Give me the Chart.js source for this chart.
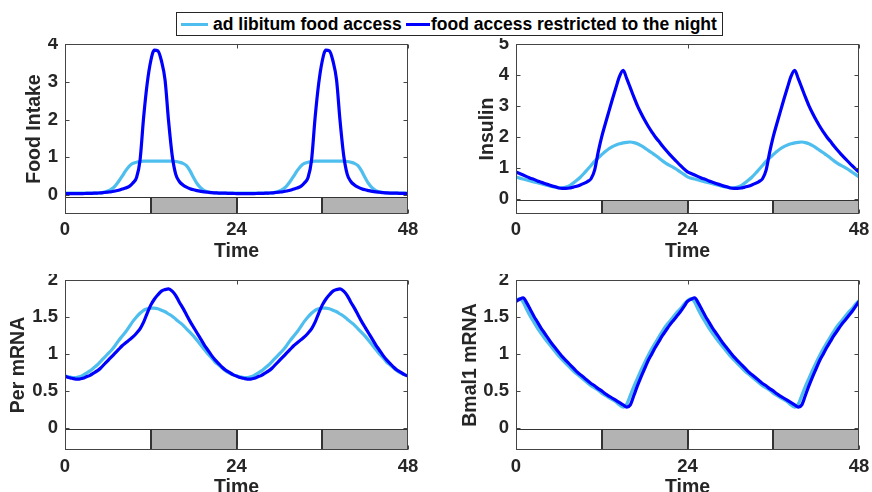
<!DOCTYPE html>
<html>
<head>
<meta charset="utf-8">
<script src="https://cdn.jsdelivr.net/npm/chart.js@4.4.1/dist/chart.umd.min.js"></script>
<style>
  html, body { margin:0; padding:0; background:#ffffff; width:872px; height:492px; overflow:hidden; }
  canvas { position:absolute; }
  #legend { position:absolute; left:176px; top:12px; width:547px; height:24px; box-sizing:border-box;
            border:1px solid #262626; background:#fff; font-family:"Liberation Sans", Arial, Helvetica, sans-serif;
            font-weight:bold; font-size:17.5px; color:#000; }
  #legend .sw { position:absolute; height:3px; top:10px; }
  #legend .tx { position:absolute; top:0; line-height:22px; white-space:nowrap; }
</style>
</head>
<body>
<div id="legend"></div>
<canvas id="c1" width="436" height="232" style="left:0px;top:38px;"></canvas>
<canvas id="c2" width="436" height="232" style="left:436px;top:38px;"></canvas>
<canvas id="c3" width="436" height="230" style="left:0px;top:274px;"></canvas>
<canvas id="c4" width="436" height="230" style="left:436px;top:274px;"></canvas>
<script>
// ---------------- data ----------------
const seriesNames = ['ad libitum food access', 'food access restricted to the night'];
const seriesColors = ['#4DBEEE', '#0000ff'];
const xLabel = 'Time';
const yLabels = ['Food Intake', 'Insulin', 'Per mRNA', 'Bmal1 mRNA'];
const xTicks = [0, 24, 48];
const yTicksFood = [0, 1, 2, 3, 4];
const yTicksInsulin = [0, 1, 2, 3, 4, 5];
const yTicksPer = [0, 0.5, 1, 1.5, 2];
const yTicksBmal = [0, 0.5, 1, 1.5, 2];
// light/dark phases (white = light, grey = night)
const phaseStart = [0, 12, 24, 36];
const phaseEnd = [12, 24, 36, 48];
const phaseFill = ['#ffffff', '#b3b3b3', '#ffffff', '#b3b3b3'];

const times = [
  0,0.5,1,1.5,2,2.5,3,3.5,4,4.5,5,5.5,6,6.5,7,7.5,8,8.5,9,9.5,10,10.5,11,11.5,
  12,12.5,13,13.5,14,14.5,15,15.5,16,16.5,17,17.5,18,18.5,19,19.5,20,20.5,21,21.5,22,22.5,23,23.5,
  24,24.5,25,25.5,26,26.5,27,27.5,28,28.5,29,29.5,30,30.5,31,31.5,32,32.5,33,33.5,34,34.5,35,35.5,
  36,36.5,37,37.5,38,38.5,39,39.5,40,40.5,41,41.5,42,42.5,43,43.5,44,44.5,45,45.5,46,46.5,47,47.5,
  48
];

const foodAdLib = [
  0.05,0.05,0.05,0.05,0.05,0.05,0.05,0.05,0.05,0.055,0.06,0.08,0.11,0.16,0.24,0.36,0.50,0.65,0.77,0.84,0.87,0.89,0.90,0.90,
  0.90,0.90,0.90,0.90,0.90,0.90,0.90,0.89,0.87,0.84,0.78,0.64,0.46,0.30,0.19,0.12,0.085,0.07,0.06,0.055,0.05,0.05,0.05,0.05,
  0.05,0.05,0.05,0.05,0.05,0.05,0.05,0.05,0.05,0.055,0.06,0.08,0.11,0.16,0.24,0.36,0.50,0.65,0.77,0.84,0.87,0.89,0.90,0.90,
  0.90,0.90,0.90,0.90,0.90,0.90,0.90,0.89,0.87,0.84,0.78,0.64,0.46,0.30,0.19,0.12,0.085,0.07,0.06,0.055,0.05,0.05,0.05,0.05,
  0.05
];
const foodNight = [
  0.04,0.04,0.04,0.04,0.04,0.04,0.045,0.045,0.05,0.055,0.06,0.07,0.08,0.09,0.11,0.13,0.16,0.19,0.23,0.32,0.46,0.92,2.05,2.95,
  3.55,3.84,3.82,3.55,3.05,1.95,1.05,0.55,0.36,0.27,0.21,0.17,0.14,0.12,0.10,0.085,0.075,0.065,0.06,0.055,0.05,0.05,0.045,0.045,
  0.04,0.04,0.04,0.04,0.04,0.04,0.045,0.045,0.05,0.055,0.06,0.07,0.08,0.09,0.11,0.13,0.16,0.19,0.23,0.32,0.46,0.92,2.05,2.95,
  3.55,3.84,3.82,3.55,3.05,1.95,1.05,0.55,0.36,0.27,0.21,0.17,0.14,0.12,0.10,0.085,0.075,0.065,0.06,0.055,0.05,0.05,0.045,0.045,
  0.04
];
const insulinAdLib = [
  0.70,0.66,0.63,0.60,0.57,0.54,0.51,0.48,0.45,0.42,0.39,0.37,0.35,0.35,0.37,0.42,0.50,0.59,0.69,0.81,0.94,1.07,1.20,1.32,
  1.42,1.52,1.61,1.68,1.73,1.77,1.80,1.82,1.83,1.81,1.77,1.71,1.64,1.56,1.48,1.40,1.31,1.22,1.14,1.07,1.01,0.94,0.86,0.78,
  0.70,0.66,0.63,0.60,0.57,0.54,0.51,0.48,0.45,0.42,0.39,0.37,0.35,0.35,0.37,0.42,0.50,0.59,0.69,0.81,0.94,1.07,1.20,1.32,
  1.42,1.52,1.61,1.68,1.73,1.77,1.80,1.82,1.83,1.81,1.77,1.71,1.64,1.56,1.48,1.40,1.31,1.22,1.14,1.07,1.01,0.94,0.86,0.78,
  0.70
];
const insulinNight = [
  0.86,0.81,0.76,0.71,0.66,0.62,0.57,0.53,0.49,0.45,0.41,0.38,0.34,0.33,0.33,0.34,0.37,0.40,0.44,0.49,0.55,0.64,0.92,1.50,
  2.00,2.42,2.82,3.22,3.60,3.96,4.15,3.88,3.58,3.28,3.00,2.76,2.54,2.34,2.16,1.99,1.85,1.70,1.56,1.43,1.31,1.19,1.07,0.96,
  0.86,0.81,0.76,0.71,0.66,0.62,0.57,0.53,0.49,0.45,0.41,0.38,0.34,0.33,0.33,0.34,0.37,0.40,0.44,0.49,0.55,0.64,0.92,1.50,
  2.00,2.42,2.82,3.22,3.60,3.96,4.15,3.88,3.58,3.28,3.00,2.76,2.54,2.34,2.16,1.99,1.85,1.70,1.56,1.43,1.31,1.19,1.07,0.96,
  0.86
];
const perAdLib = [
  0.70,0.69,0.68,0.68,0.69,0.71,0.74,0.77,0.81,0.85,0.90,0.95,1.00,1.05,1.11,1.18,1.24,1.30,1.37,1.44,1.50,1.55,1.59,1.61,
  1.62,1.62,1.61,1.59,1.57,1.54,1.51,1.47,1.43,1.39,1.34,1.29,1.24,1.18,1.12,1.06,1.00,0.95,0.89,0.85,0.81,0.77,0.74,0.72,
  0.70,0.69,0.68,0.68,0.69,0.71,0.74,0.77,0.81,0.85,0.90,0.95,1.00,1.05,1.11,1.18,1.24,1.30,1.37,1.44,1.50,1.55,1.59,1.61,
  1.62,1.62,1.61,1.59,1.57,1.54,1.51,1.47,1.43,1.39,1.34,1.29,1.24,1.18,1.12,1.06,1.00,0.95,0.89,0.85,0.81,0.77,0.74,0.72,
  0.70
];
const perNight = [
  0.70,0.68,0.67,0.66,0.66,0.67,0.69,0.71,0.74,0.77,0.81,0.86,0.91,0.96,1.01,1.06,1.11,1.15,1.19,1.23,1.28,1.34,1.43,1.55,
  1.66,1.74,1.80,1.85,1.87,1.88,1.85,1.79,1.70,1.62,1.53,1.44,1.36,1.28,1.20,1.12,1.05,0.98,0.92,0.87,0.82,0.78,0.75,0.72,
  0.70,0.68,0.67,0.66,0.66,0.67,0.69,0.71,0.74,0.77,0.81,0.86,0.91,0.96,1.01,1.06,1.11,1.15,1.19,1.23,1.28,1.34,1.43,1.55,
  1.66,1.74,1.80,1.85,1.87,1.88,1.85,1.79,1.70,1.62,1.53,1.44,1.36,1.28,1.20,1.12,1.05,0.98,0.92,0.87,0.82,0.78,0.75,0.72,
  0.70
];
const bmalAdLib = [
  1.72,1.75,1.70,1.60,1.51,1.43,1.35,1.28,1.21,1.15,1.09,1.03,0.97,0.92,0.87,0.82,0.77,0.73,0.69,0.65,0.61,0.57,0.54,0.51,
  0.47,0.44,0.41,0.38,0.35,0.31,0.28,0.32,0.44,0.56,0.67,0.78,0.88,0.98,1.07,1.15,1.23,1.31,1.38,1.44,1.50,1.56,1.61,1.67,
  1.72,1.75,1.70,1.60,1.51,1.43,1.35,1.28,1.21,1.15,1.09,1.03,0.97,0.92,0.87,0.82,0.77,0.73,0.69,0.65,0.61,0.57,0.54,0.51,
  0.47,0.44,0.41,0.38,0.35,0.31,0.28,0.32,0.44,0.56,0.67,0.78,0.88,0.98,1.07,1.15,1.23,1.31,1.38,1.44,1.50,1.56,1.61,1.67,
  1.72
];
const bmalNight = [
  1.71,1.74,1.76,1.69,1.60,1.51,1.43,1.35,1.28,1.21,1.14,1.08,1.02,0.96,0.91,0.86,0.81,0.76,0.72,0.68,0.64,0.60,0.57,0.53,
  0.50,0.46,0.43,0.40,0.37,0.34,0.31,0.28,0.31,0.44,0.57,0.69,0.80,0.91,1.00,1.09,1.17,1.25,1.32,1.39,1.45,1.51,1.57,1.64,
  1.71,1.74,1.76,1.69,1.60,1.51,1.43,1.35,1.28,1.21,1.14,1.08,1.02,0.96,0.91,0.86,0.81,0.76,0.72,0.68,0.64,0.60,0.57,0.53,
  0.50,0.46,0.43,0.40,0.37,0.34,0.31,0.28,0.31,0.44,0.57,0.69,0.80,0.91,1.00,1.09,1.17,1.25,1.32,1.39,1.45,1.51,1.57,1.64,
  1.71
];

// ---------------- legend (HTML) ----------------
(function(){
  const lg = document.getElementById('legend');
  const pos = [{sw:4, sww:27, tx:36}, {sw:229, sww:24, tx:254}];
  seriesNames.forEach((n,i)=>{
    const s = document.createElement('span'); s.className='sw';
    s.style.left = pos[i].sw+'px'; s.style.width = pos[i].sww+'px'; s.style.background = seriesColors[i];
    lg.appendChild(s);
    const t = document.createElement('span'); t.className='tx'; t.style.left = pos[i].tx+'px'; t.textContent = n;
    lg.appendChild(t);
  });
})();

// ---------------- drawing ----------------
const FONT = '"Liberation Sans", Arial, Helvetica, sans-serif';
const TXT = '#262626';
Chart.defaults.font.family = FONT;
Chart.defaults.font.weight = 'bold';
Chart.defaults.font.size = 18;
Chart.defaults.color = TXT;

const dayNightPlugin = {
  id: 'dayNight',
  beforeDatasetsDraw(chart, args, opts) {
    const {ctx, scales:{x, y}} = chart;
    const yb = Math.round(y.getPixelForValue(y.min)) - 0.5;
    const yt = Math.round(y.getPixelForValue(opts.top)) + 0.5;
    ctx.save();
    ctx.lineWidth = 1;
    ctx.strokeStyle = '#333333';
    for (let i = 0; i < phaseStart.length; i++) {
      const x0 = Math.round(x.getPixelForValue(phaseStart[i])) + 0.5;
      const x1 = Math.round(x.getPixelForValue(phaseEnd[i])) - 0.5;
      ctx.fillStyle = phaseFill[i];
      ctx.fillRect(x0, yt, x1 - x0, yb - yt);
      ctx.strokeRect(x0, yt, x1 - x0, yb - yt);
    }
    ctx.restore();
  }
};

const boxPlugin = {
  id: 'matlabBox',
  afterDraw(chart) {
    const {ctx, chartArea:a, scales:{x, y}} = chart;
    const L = Math.round(a.left) + 0.5, R = Math.round(a.right) - 0.5;
    const T = Math.round(a.top) + 0.5, B = Math.round(a.bottom) - 0.5;
    ctx.save();
    ctx.strokeStyle = '#444444';
    ctx.lineWidth = 1;
    ctx.strokeRect(L, T, R - L, B - T);
    ctx.beginPath();
    const tl = 4;
    y.ticks.forEach(t => {
      const py = Math.round(y.getPixelForValue(t.value)) + 0.5;
      ctx.moveTo(L, py); ctx.lineTo(L + tl, py);
      ctx.moveTo(R, py); ctx.lineTo(R - tl, py);
    });
    x.ticks.forEach(t => {
      const px = Math.round(x.getPixelForValue(t.value)) + 0.5;
      ctx.moveTo(px, T); ctx.lineTo(px, T + tl);
      ctx.moveTo(px, B); ctx.lineTo(px, B - tl);
    });
    ctx.stroke();
    ctx.restore();
  }
};

function makePanel(id, p) {
  const mk = arr => times.map((t, i) => ({x: t, y: arr[i]}));
  return new Chart(document.getElementById(id), {
    type: 'line',
    data: {
      datasets: [
        {label: seriesNames[1], data: mk(p.night), borderColor: seriesColors[1], borderWidth: 3.2,
         pointRadius: 0, fill: false, order: 0, cubicInterpolationMode: 'monotone'},
        {label: seriesNames[0], data: mk(p.adlib), borderColor: seriesColors[0], borderWidth: 3.2,
         pointRadius: 0, fill: false, order: 1, cubicInterpolationMode: 'monotone'}
      ]
    },
    options: {
      responsive: false, animation: false, devicePixelRatio: 1,
      layout: {padding: {left: 0, top: 6, right: p.padRight, bottom: 0}},
      plugins: {legend: {display: false}, tooltip: {enabled: false}, dayNight: {top: p.barTop}},
      scales: {
        x: {
          type: 'linear', min: 0, max: 48,
          afterBuildTicks: s => { s.ticks = xTicks.map(v => ({value: v})); },
          afterFit: s => { s.height = p.xH; s.paddingLeft = 0; s.paddingRight = 0; },
          grid: {display: false, drawTicks: false, tickLength: 0}, border: {display: false},
          ticks: {padding: p.xTickPad, maxRotation: 0, autoSkip: false, color: TXT,
                  callback: v => String(v),
                  font: {family: FONT, size: 18.5, weight: 'bold'}},
          title: {display: true, text: xLabel, color: TXT, padding: {top: 0, bottom: p.xTitlePad},
                  font: {family: FONT, size: 19.5, weight: 'bold'}}
        },
        y: {
          type: 'linear', min: p.ymin, max: p.ymax,
          afterBuildTicks: s => { s.ticks = p.yTicks.map(v => ({value: v})); },
          afterFit: s => { s.width = p.yW; s.paddingTop = 0; s.paddingBottom = 0; },
          grid: {display: false, drawTicks: false, tickLength: 0}, border: {display: false},
          ticks: {padding: 7, color: TXT, autoSkip: false,
                  callback: v => String(v),
                  font: {family: FONT, size: 18.5, weight: 'bold'}},
          title: {display: true, text: p.ylabel, color: TXT, padding: {top: p.yTitlePad, bottom: 0},
                  font: {family: FONT, size: 19.5, weight: 'bold'}}
        }
      }
    },
    plugins: [dayNightPlugin, boxPlugin]
  });
}

makePanel('c1', {adlib: foodAdLib, night: foodNight, ymin: -0.5, ymax: 4, yTicks: yTicksFood, ylabel: yLabels[0],
  yW: 65, padRight: 28, xH: 56, xTickPad: 5, xTitlePad: 7, yTitlePad: 23.3, barTop: -0.06});
makePanel('c2', {adlib: insulinAdLib, night: insulinNight, ymin: -0.5, ymax: 5, yTicks: yTicksInsulin, ylabel: yLabels[1],
  yW: 80, padRight: 13, xH: 56, xTickPad: 5, xTitlePad: 7, yTitlePad: 39.5, barTop: -0.04});
makePanel('c3', {adlib: perAdLib, night: perNight, ymin: -0.3, ymax: 2, yTicks: yTicksPer, ylabel: yLabels[2],
  yW: 65, padRight: 28, xH: 54, xTickPad: 6, xTitlePad: 5, yTitlePad: 6.8, barTop: -0.02});
makePanel('c4', {adlib: bmalAdLib, night: bmalNight, ymin: -0.3, ymax: 2, yTicks: yTicksBmal, ylabel: yLabels[3],
  yW: 80, padRight: 13, xH: 54, xTickPad: 6, xTitlePad: 5, yTitlePad: 23.3, barTop: -0.02});
</script>
</body>
</html>
